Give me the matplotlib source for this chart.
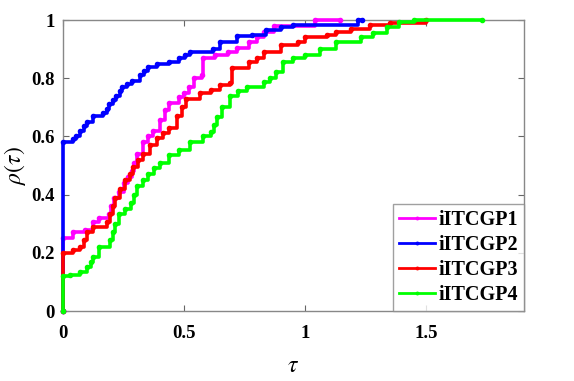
import matplotlib
matplotlib.use("Agg")
import matplotlib.pyplot as plt

# performance profile data (tau breakpoints, rho values)
tau_p1 = [0, 0, 0.04, 0.09, 0.125, 0.15, 0.19, 0.2, 0.21, 0.23, 0.25, 0.27,
          0.285, 0.295, 0.305, 0.33, 0.35, 0.37, 0.40, 0.42, 0.44, 0.48, 0.50,
          0.52, 0.54, 0.575, 0.58, 0.63, 0.68, 0.72, 0.77, 0.80, 0.83, 0.87,
          1.04, 1.145]
rho_p1 = [0, 0.25, 0.27, 0.28, 0.305, 0.32, 0.335, 0.36, 0.39, 0.41, 0.44, 0.46,
          0.48, 0.51, 0.54, 0.58, 0.60, 0.62, 0.656, 0.69, 0.715, 0.735, 0.75,
          0.77, 0.80, 0.81, 0.87, 0.88, 0.89, 0.905, 0.925, 0.94, 0.96, 0.98,
          1.0, 1.0]

tau_p2 = [0, 0, 0.04, 0.055, 0.07, 0.085, 0.1, 0.125, 0.165, 0.18, 0.19, 0.205,
          0.22, 0.235, 0.245, 0.265, 0.285, 0.32, 0.335, 0.35, 0.39, 0.44, 0.48,
          0.505, 0.525, 0.62, 0.65, 0.72, 0.78, 0.84, 0.9, 0.95, 1.22, 1.235]
rho_p2 = [0, 0.58, 0.59, 0.60, 0.62, 0.635, 0.65, 0.67, 0.68, 0.695, 0.71, 0.725,
          0.74, 0.755, 0.77, 0.78, 0.79, 0.81, 0.825, 0.84, 0.85, 0.855, 0.87,
          0.88, 0.89, 0.90, 0.925, 0.945, 0.95, 0.965, 0.975, 0.983, 1.0, 1.0]

tau_p3 = [0, 0, 0.04, 0.07, 0.085, 0.1, 0.125, 0.18, 0.195, 0.205, 0.215, 0.235,
          0.255, 0.275, 0.29, 0.31, 0.33, 0.36, 0.39, 0.415, 0.44, 0.47, 0.49,
          0.51, 0.565, 0.61, 0.65, 0.69, 0.70, 0.77, 0.80, 0.83, 0.9, 0.97, 1.0,
          1.09, 1.13, 1.19, 1.27, 1.35, 1.5]
rho_p3 = [0, 0.2, 0.21, 0.22, 0.245, 0.27, 0.29, 0.305, 0.335, 0.36, 0.39, 0.42,
          0.45, 0.47, 0.495, 0.52, 0.54, 0.57, 0.595, 0.61, 0.63, 0.67, 0.70,
          0.73, 0.75, 0.76, 0.775, 0.785, 0.835, 0.855, 0.87, 0.89, 0.915, 0.925,
          0.94, 0.95, 0.96, 0.97, 0.983, 0.99, 1.0]

tau_p4 = [0, 0, 0.03, 0.07, 0.1, 0.115, 0.125, 0.15, 0.195, 0.205, 0.215, 0.23,
          0.255, 0.28, 0.295, 0.305, 0.33, 0.35, 0.375, 0.40, 0.44, 0.48, 0.525,
          0.58, 0.61, 0.625, 0.635, 0.655, 0.69, 0.725, 0.76, 0.83, 0.855, 0.88,
          0.91, 0.95, 1.0, 1.06, 1.13, 1.23, 1.28, 1.34, 1.39, 1.45, 1.73]
rho_p4 = [0, 0.12, 0.125, 0.135, 0.15, 0.17, 0.185, 0.22, 0.245, 0.27, 0.30,
          0.335, 0.35, 0.37, 0.40, 0.43, 0.45, 0.47, 0.49, 0.51, 0.535, 0.555,
          0.58, 0.60, 0.615, 0.64, 0.667, 0.70, 0.74, 0.755, 0.77, 0.787, 0.80,
          0.82, 0.855, 0.87, 0.88, 0.90, 0.925, 0.94, 0.955, 0.975, 0.993, 1.0,
          1.0]

labels = ["iITCGP1", "iITCGP2", "iITCGP3", "iITCGP4"]
colors = ["#FF00FF", "#0000FF", "#FF0000", "#00FF00"]
x_ticks = [0, 0.5, 1, 1.5]
y_ticks = [0, 0.2, 0.4, 0.6, 0.8, 1]

plt.rcParams["font.family"] = ["Liberation Serif", "DejaVu Serif"]
plt.rcParams["mathtext.fontset"] = "stix"

fig = plt.figure(figsize=(5.74, 3.81), dpi=100)
ax = fig.add_axes([0.1098, 0.1837, 0.8031, 0.7638])

series = [(tau_p1, rho_p1), (tau_p2, rho_p2), (tau_p3, rho_p3), (tau_p4, rho_p4)]
for (t, r), lab, c in zip(series, labels, colors):
    ax.plot(t, r, drawstyle="steps-post", color=c, lw=2.6, marker=".",
            markersize=6, label=lab, clip_on=False, zorder=3)

ax.set_xlim(0, 1.905)
ax.set_ylim(0, 1)
ax.set_xticks(x_ticks)
ax.set_xticklabels(["0", "0.5", "1", "1.5"])
ax.set_yticks(y_ticks)
ax.set_yticklabels(["0", "0.2", "0.4", "0.6", "0.8", "1"])
ax.tick_params(direction="in", top=True, right=True, length=4, width=0.8,
               color="#666666", labelsize=13.5)
ax.tick_params(axis="x", pad=10)
ax.tick_params(axis="y", pad=6)
for lab in ax.get_xticklabels() + ax.get_yticklabels():
    lab.set_fontweight("bold")
for sp in ax.spines.values():
    sp.set_color("#888888")
    sp.set_linewidth(1.0)

ax.set_xlabel(r"$\tau$", fontsize=17, labelpad=10)
ax.set_ylabel(r"$\rho(\tau)$", fontsize=17, labelpad=2)

leg = ax.legend(loc="lower right", borderaxespad=0, fancybox=False,
                edgecolor="#888888", handlelength=1.8, handletextpad=0.15,
                labelspacing=0.25, borderpad=0.3, markerscale=0.6,
                prop={"weight": "bold", "size": 14.5})
leg.get_frame().set_linewidth(1.0)
for h in leg.get_lines():
    h.set_linewidth(2.0)

fig.savefig("out.png", dpi=100, facecolor="white")
